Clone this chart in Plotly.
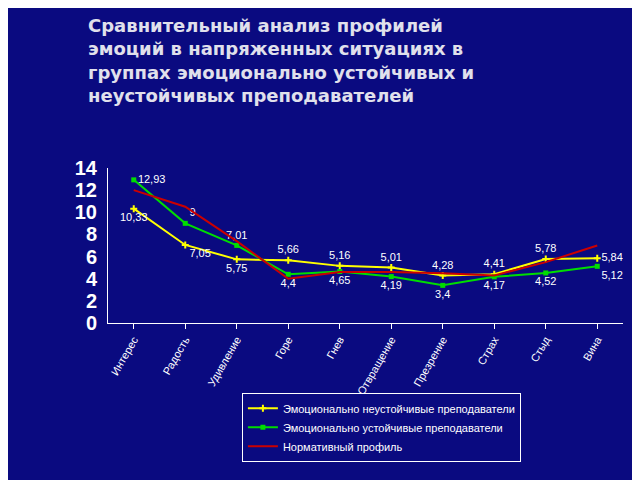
import plotly.graph_objects as go

categories = ["Интерес", "Радость", "Удивление", "Горе", "Гнев", "Отвращение",
              "Презрение", "Страх", "Стыд", "Вина"]
unstable = [10.33, 7.05, 5.75, 5.66, 5.16, 5.01, 4.28, 4.41, 5.78, 5.84]
stable = [12.93, 9, 7.01, 4.4, 4.65, 4.19, 3.4, 4.17, 4.52, 5.12]
normative = [12, 10.5, 7.4, 4, 4.6, 4.6, 4.5, 4.3, 5.5, 7]

unstable_pos = ["bottom center", "bottom right", "bottom center", "top center", "top center",
                "top center", "top center", "top center", "top center", "middle right"]
stable_pos = ["middle right", "top right", "top center", "bottom center", "bottom center",
              "bottom center", "bottom center", "bottom center", "bottom center", "bottom right"]

def fmt(v):
    return f"{v:g}".replace(".", ",")

label_font = dict(color="white", size=11, family="Liberation Sans Narrow, sans-serif")

fig = go.Figure()
fig.add_trace(go.Scatter(
    x=categories, y=unstable, name="Эмоционально неустойчивые преподаватели",
    mode="lines+markers+text", line=dict(color="#FFFF00", width=2),
    marker=dict(symbol="cross-thin", size=5, line=dict(color="#FFFF00", width=2)),
    text=[fmt(v) for v in unstable], textposition=unstable_pos, textfont=label_font))
fig.add_trace(go.Scatter(
    x=categories, y=stable, name="Эмоционально устойчивые преподаватели",
    mode="lines+markers+text", line=dict(color="#00DD00", width=2),
    marker=dict(symbol="square", size=5, color="#00DD00"),
    text=[fmt(v) for v in stable], textposition=stable_pos, textfont=label_font))
fig.add_trace(go.Scatter(
    x=categories, y=normative, name="Нормативный профиль",
    mode="lines", line=dict(color="#CC0000", width=2)))

fig.update_layout(
    width=640, height=480,
    paper_bgcolor="#0A0A80", plot_bgcolor="#0A0A80",
    margin=dict(l=100, r=25, t=160, b=165),
    title=dict(text="<b>Сравнительный анализ профилей<br>эмоций в напряженных ситуациях в<br>"
                    "группах эмоционально устойчивых и<br>неустойчивых преподавателей</b>",
               x=0.125, xanchor="left", y=0.95, yanchor="top",
               font=dict(color="#E0E0EC", size=18, family="DejaVu Sans")),
    showlegend=True,
    legend=dict(x=0.26, y=-0.45, xanchor="left", yanchor="top",
                bgcolor="rgba(0,0,0,0)", bordercolor="white", borderwidth=1,
                font=dict(color="white", size=11, family="Liberation Sans Narrow, sans-serif"),
                tracegroupgap=0),
    font=dict(color="white"),
)
fig.update_xaxes(showgrid=False, showline=True, linecolor="white", ticks="outside",
                 tickcolor="white", tickangle=-60,
                 tickfont=dict(color="white", size=11, family="Liberation Sans Narrow, sans-serif"),
                 range=[-0.5, 9.5])
fig.update_yaxes(range=[0, 14], dtick=2, showgrid=False, showline=True, linecolor="white",
                 zeroline=False, ticklabelstandoff=6,
                 tickfont=dict(color="white", size=20, family="Liberation Sans Narrow, sans-serif",
                               weight="bold"))

fig.write_html("out.html")
